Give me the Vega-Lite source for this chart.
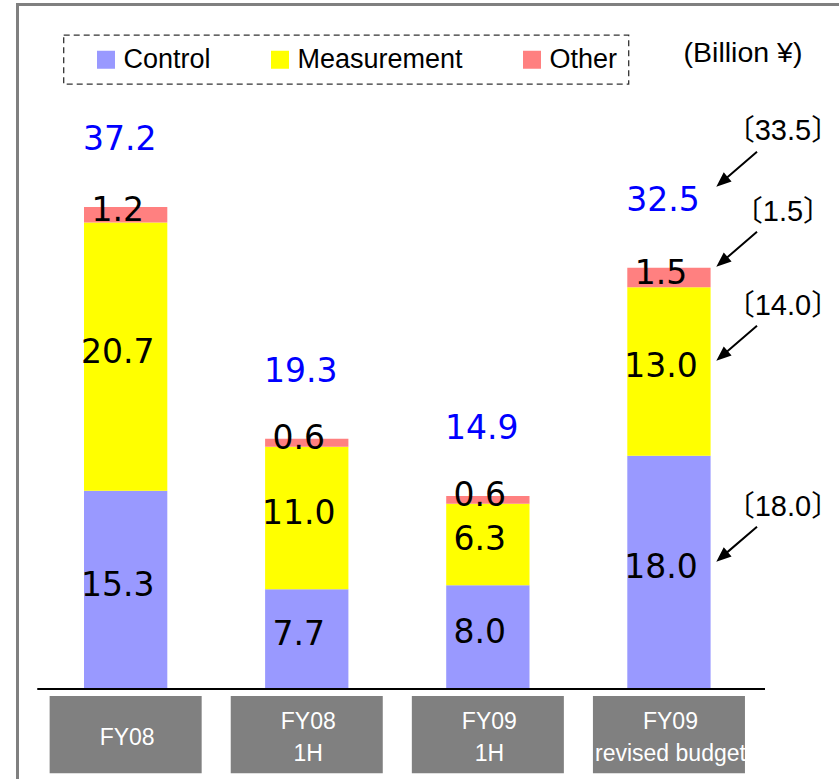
{
  "$schema": "https://vega.github.io/schema/vega-lite/v6.json",
  "width": 821.5,
  "height": 774.5,
  "autosize": {"type": "none"},
  "padding": {"left": 17.5, "top": 4.5, "right": 0, "bottom": 0},
  "background": "white",
  "config": {
    "view": {"stroke": "#808080", "strokeWidth": 3, "strokeDash": [821.5, 1596, 774.5]},
    "locale": {"number": {"decimal": ".", "thousands": ",", "grouping": [3], "currency": ["〔", "〕"]}}
  },
  "datasets": {
    "sales": [
      {"category": "FY08", "series": "Control", "value": 15.3},
      {"category": "FY08", "series": "Measurement", "value": 20.7},
      {"category": "FY08", "series": "Other", "value": 1.2},
      {"category": "FY08 1H", "series": "Control", "value": 7.7},
      {"category": "FY08 1H", "series": "Measurement", "value": 11.0},
      {"category": "FY08 1H", "series": "Other", "value": 0.6},
      {"category": "FY09 1H", "series": "Control", "value": 8.0},
      {"category": "FY09 1H", "series": "Measurement", "value": 6.3},
      {"category": "FY09 1H", "series": "Other", "value": 0.6},
      {"category": "FY09 revised budget", "series": "Control", "value": 18.0, "prev": 18.0},
      {"category": "FY09 revised budget", "series": "Measurement", "value": 13.0, "prev": 14.0},
      {"category": "FY09 revised budget", "series": "Other", "value": 1.5, "prev": 1.5}
    ],
    "boxes": [
      {"category": "FY08", "label": "FY08"},
      {"category": "FY08 1H", "label": "FY08\n1H"},
      {"category": "FY09 1H", "label": "FY09\n1H"},
      {"category": "FY09 revised budget", "label": "FY09\nrevised budget"}
    ]
  },
  "data": {"name": "sales"},
  "layer": [
    {
      "mark": {"type": "bar"},
      "encoding": {
        "x": {"field": "category", "type": "nominal", "axis": null,
              "scale": {"domain": ["FY08", "FY08 1H", "FY09 1H", "FY09 revised budget"], "paddingInner": 0.54, "paddingOuter": 0.5381, "align": 0.3412}},
        "y": {"field": "value", "type": "quantitative", "stack": "zero",
              "scale": {"domain": [-6.944, 52.816], "nice": false, "zero": false},
              "axis": {"title": "(Billion ¥)", "titleAngle": 0, "titleX": 725, "titleY": 48, "titleAlign": "center", "titleBaseline": "middle",
                       "titleFont": "Liberation Sans", "titleFontSize": 28.5, "titleFontWeight": "normal", "titleColor": "black",
                       "labels": false, "ticks": false, "domain": false, "grid": false}},
        "color": {"field": "series", "type": "nominal",
                  "scale": {"domain": ["Control", "Measurement", "Other"], "range": ["#9999ff", "#ffff00", "#ff8080"]},
                  "legend": {"orient": "none", "legendX": 46, "legendY": 30.5, "direction": "horizontal",
                             "title": " ", "titleOrient": "left", "titlePadding": 18, "titleFontSize": 10,
                             "symbolType": "square", "symbolSize": 324, "symbolStrokeWidth": 0, "symbolOpacity": 1,
                             "labelFont": "Liberation Sans", "labelFontSize": 27, "labelOffset": 4, "labelLimit": 400, "labelColor": "black",
                             "columnPadding": 55, "padding": 11, "strokeColor": "#333333", "fillColor": "white",
                             "encode": {"legend": {"update": {"strokeDash": {"value": [6, 4]}, "strokeWidth": {"value": 1.3}}}}}},
        "order": {"field": "series", "sort": "ascending"}
      }
    },
    {
      "data": {"values": [{}]},
      "mark": {"type": "rule", "color": "black", "strokeWidth": 2},
      "encoding": {
        "x": {"datum": "FY08", "type": "nominal", "bandPosition": -0.561},
        "x2": {"datum": "FY09 revised budget", "bandPosition": 1.653},
        "y": {"datum": 0, "type": "quantitative"}
      }
    },
    {
      "mark": {"type": "text", "font": "DejaVu Sans", "fontSize": 33, "color": "black", "dx": -8, "dy": -4, "baseline": "middle"},
      "encoding": {
        "x": {"field": "category", "type": "nominal"},
        "y": {"field": "value", "type": "quantitative", "stack": "zero", "bandPosition": 0.5},
        "detail": {"field": "series"},
        "order": {"field": "series", "sort": "ascending"},
        "text": {"field": "value", "type": "quantitative", "format": ".1f"}
      }
    },
    {
      "mark": {"type": "text", "font": "DejaVu Sans", "fontSize": 33, "color": "#0000ff", "dx": -6, "dy": -67, "baseline": "middle"},
      "encoding": {
        "x": {"field": "category", "type": "nominal"},
        "y": {"aggregate": "sum", "field": "value", "type": "quantitative"},
        "text": {"aggregate": "sum", "field": "value", "type": "quantitative", "format": ".1f"}
      }
    },
    {
      "data": {"name": "boxes"},
      "mark": {"type": "bar", "color": "#808080", "width": {"band": 1.825}},
      "encoding": {
        "x": {"field": "category", "type": "nominal"},
        "y": {"datum": -0.54, "type": "quantitative"},
        "y2": {"datum": -6.505}
      }
    },
    {
      "data": {"name": "boxes"},
      "transform": [{"filter": "indexof(datum.label, '\\n') < 0"}],
      "mark": {"type": "text", "font": "Liberation Sans", "fontSize": 23, "color": "white", "baseline": "middle", "dx": 1.5},
      "encoding": {
        "x": {"field": "category", "type": "nominal"},
        "y": {"datum": -3.742, "type": "quantitative"},
        "text": {"field": "label"}
      }
    },
    {
      "data": {"name": "boxes"},
      "transform": [{"filter": "indexof(datum.label, '\\n') >= 0"}],
      "mark": {"type": "text", "font": "Liberation Sans", "fontSize": 23, "color": "white", "lineBreak": "\n", "lineHeight": 32, "baseline": "middle", "dx": 1.5},
      "encoding": {
        "x": {"field": "category", "type": "nominal"},
        "y": {"datum": -2.546, "type": "quantitative"},
        "text": {"field": "label"}
      }
    },
    {
      "transform": [{"filter": {"field": "prev", "valid": true}}],
      "mark": {"type": "text", "font": "Liberation Sans, Noto Sans CJK JP", "fontSize": 29, "color": "black", "dx": 114, "dy": -65.4, "baseline": "middle"},
      "encoding": {
        "x": {"field": "category", "type": "nominal"},
        "y": {"field": "value", "type": "quantitative", "stack": "zero", "bandPosition": 0.5},
        "detail": {"field": "series"},
        "order": {"field": "series", "sort": "ascending"},
        "text": {"field": "prev", "type": "quantitative", "format": "$.1f"}
      }
    },
    {
      "transform": [{"filter": {"field": "prev", "valid": true}}],
      "mark": {"type": "point", "shape": "M0.840,-0.670L0.788,-0.730L-0.385,0.278L-0.516,0.127L-0.814,0.700L-0.203,0.491L-0.333,0.339Z",
               "size": 2500, "filled": true, "color": "black", "opacity": 1, "strokeWidth": 0, "xOffset": 67.7, "yOffset": -28.2},
      "encoding": {
        "x": {"field": "category", "type": "nominal"},
        "y": {"field": "value", "type": "quantitative", "stack": "zero", "bandPosition": 0.5},
        "detail": {"field": "series"},
        "order": {"field": "series", "sort": "ascending"}
      }
    },
    {
      "transform": [{"filter": {"field": "category", "equal": "FY09 revised budget"}}],
      "mark": {"type": "text", "font": "Liberation Sans, Noto Sans CJK JP", "fontSize": 29, "color": "black", "dx": 114, "dy": -136.8, "baseline": "middle"},
      "encoding": {
        "x": {"field": "category", "type": "nominal"},
        "y": {"aggregate": "sum", "field": "value", "type": "quantitative"},
        "text": {"aggregate": "sum", "field": "prev", "type": "quantitative", "format": "$.1f"}
      }
    },
    {
      "transform": [{"filter": {"field": "category", "equal": "FY09 revised budget"}}],
      "mark": {"type": "point", "shape": "M0.840,-0.670L0.788,-0.730L-0.385,0.278L-0.516,0.127L-0.814,0.700L-0.203,0.491L-0.333,0.339Z",
               "size": 2500, "filled": true, "color": "black", "opacity": 1, "strokeWidth": 0, "xOffset": 67.7, "yOffset": -98.6},
      "encoding": {
        "x": {"field": "category", "type": "nominal"},
        "y": {"aggregate": "sum", "field": "value", "type": "quantitative"}
      }
    }
  ]
}
